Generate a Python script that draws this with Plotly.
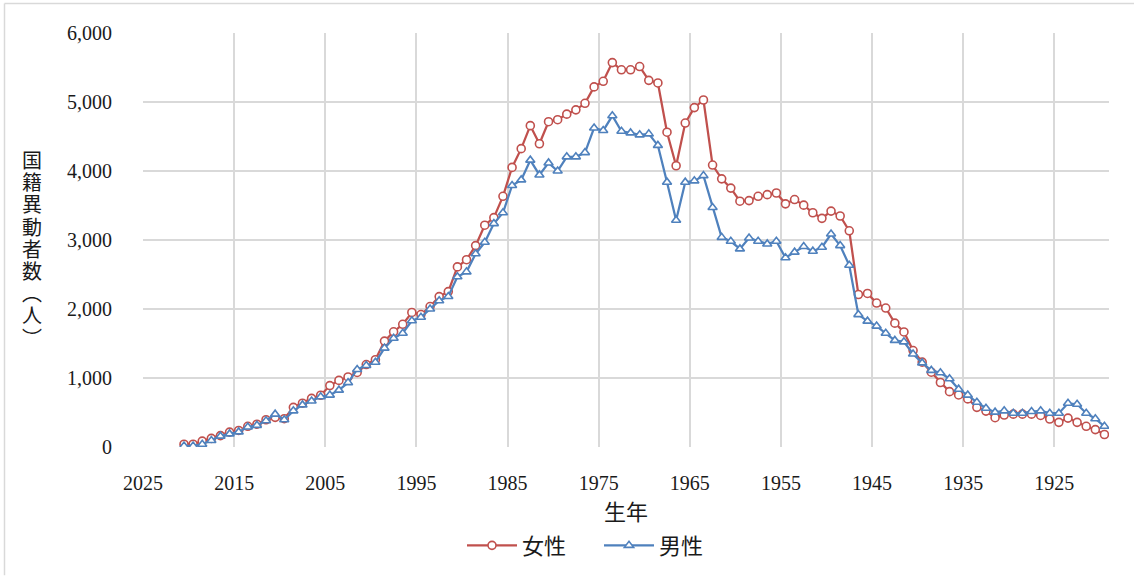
import plotly.graph_objects as go

# ---- data ----
birth_years = list(range(2020, 1918, -1))  # 2020 ... 1919

female = [40, 40, 85, 125, 165, 215, 240, 300, 330, 395,
          430, 410, 575, 635, 705, 750, 890, 965, 1015, 1080,
          1195, 1265, 1535, 1670, 1778, 1950, 1920, 2036, 2180, 2252,
          2610, 2714, 2919, 3214, 3324, 3633, 4052, 4324, 4657, 4395,
          4714, 4743, 4824, 4886, 4981, 5219, 5300, 5571, 5467, 5467,
          5514, 5314, 5276, 4562, 4076, 4695, 4919, 5029, 4086, 3886,
          3752, 3562, 3571, 3633, 3657, 3681, 3524, 3586, 3505, 3395,
          3314, 3419, 3348, 3133, 2210, 2225, 2086, 2014, 1795, 1667,
          1398, 1230, 1084, 935, 802, 754, 697, 575, 520, 425,
          463, 476, 476, 476, 457, 405, 357, 419, 357, 300,
          252, 181]

male = [15, 15, 40, 95, 157, 190, 219, 290, 314, 381,
        476, 395, 524, 610, 667, 729, 752, 824, 933, 1124,
        1181, 1229, 1433, 1577, 1649, 1830, 1880, 2000, 2120, 2181,
        2467, 2538, 2800, 2967, 3238, 3395, 3790, 3871, 4157, 3943,
        4117, 4000, 4205, 4205, 4267, 4624, 4586, 4800, 4576, 4552,
        4524, 4538, 4371, 3838, 3286, 3838, 3857, 3933, 3470, 3038,
        2981, 2871, 3029, 2981, 2943, 2981, 2743, 2824, 2905, 2838,
        2895, 3086, 2919, 2633, 1919, 1824, 1752, 1648, 1545, 1524,
        1348, 1219, 1110, 1076, 990, 838, 752, 648, 562, 505,
        524, 490, 490, 514, 524, 490, 490, 633, 619, 490,
        410, 300]

x_ticks = list(range(2025, 1924, -10))
y_title_chars = ["国", "籍", "異", "動", "者", "数", "︵", "人", "︶"]
x_title = "生年"
name_f = "女性"
name_m = "男性"

# points are drawn at mid-year of each birth year
x_mid = [y + 0.5 for y in birth_years]

# ---- layout geometry ----
W, H = 1134, 578
L, R, T, B = 143, 25, 33, 125
pw, ph = W - L - R, H - T - B


def px(xp):
    return (xp - L) / pw


def py(yp):
    return (H - B - yp) / ph


FONT = "Liberation Serif, Noto Sans CJK JP, serif"
RED = "#C0504D"
BLUE = "#4F81BD"
GRID = "#D9D9D9"
TXT = "#1a1a1a"

fig = go.Figure()
fig.add_trace(go.Scatter(
    x=x_mid, y=female, name=name_f, mode="lines+markers",
    line=dict(color=RED, width=2.25),
    marker=dict(symbol="circle", size=8, color="white",
                line=dict(color=RED, width=1.6)),
))
fig.add_trace(go.Scatter(
    x=x_mid, y=male, name=name_m, mode="lines+markers",
    line=dict(color=BLUE, width=2.25),
    marker=dict(symbol="triangle-up", size=8, color="white",
                line=dict(color=BLUE, width=1.6)),
))

annotations = [dict(
    text=x_title, xref="paper", yref="paper", x=0.5, y=py(519),
    xanchor="center", yanchor="middle", showarrow=False,
    font=dict(family=FONT, size=22, color=TXT))]
for i, ch in enumerate(y_title_chars):
    annotations.append(dict(
        text=ch, xref="paper", yref="paper", x=px(32), y=py(163 + i * 22.5),
        xanchor="center", yanchor="middle", showarrow=False,
        font=dict(family=FONT, size=20, color=TXT)))

fig.update_layout(
    width=W, height=H,
    margin=dict(l=L, r=R, t=T, b=B, pad=0),
    paper_bgcolor="white", plot_bgcolor="white",
    font=dict(family=FONT, size=20, color=TXT),
    xaxis=dict(
        range=[2025, 1919], tickmode="array", tickvals=x_ticks,
        ticktext=[str(v) for v in x_ticks],
        showgrid=True, gridcolor=GRID, gridwidth=1.5,
        zeroline=False, showline=False, ticks="",
        ticklabelstandoff=22, automargin=False,
        tickfont=dict(family=FONT, size=20, color=TXT),
    ),
    yaxis=dict(
        range=[0, 6000], dtick=1000, tickformat=",",
        showgrid=True, gridcolor=GRID, gridwidth=1.5,
        zeroline=False, showline=False, ticks="",
        ticklabelstandoff=30, automargin=False,
        tickfont=dict(family=FONT, size=20, color=TXT),
    ),
    legend=dict(
        orientation="h", x=px(462), xanchor="left",
        y=py(553), yanchor="middle",
        font=dict(family=FONT, size=22, color=TXT),
        itemwidth=50, entrywidth=72, entrywidthmode="pixels",
        bgcolor="rgba(0,0,0,0)",
    ),
    annotations=annotations,
    shapes=[
        dict(type="line", xref="paper", yref="paper",
             x0=px(4.5), x1=px(W + 5), y0=py(3), y1=py(3),
             line=dict(color=GRID, width=1.5)),
        dict(type="line", xref="paper", yref="paper",
             x0=px(4.5), x1=px(4.5), y0=py(3), y1=py(H + 5),
             line=dict(color=GRID, width=1.5)),
    ],
)

fig.write_html(
    "out.html",
    config={"displayModeBar": False},
    post_script="document.body.style.margin='0';document.body.style.overflow='hidden';",
)
